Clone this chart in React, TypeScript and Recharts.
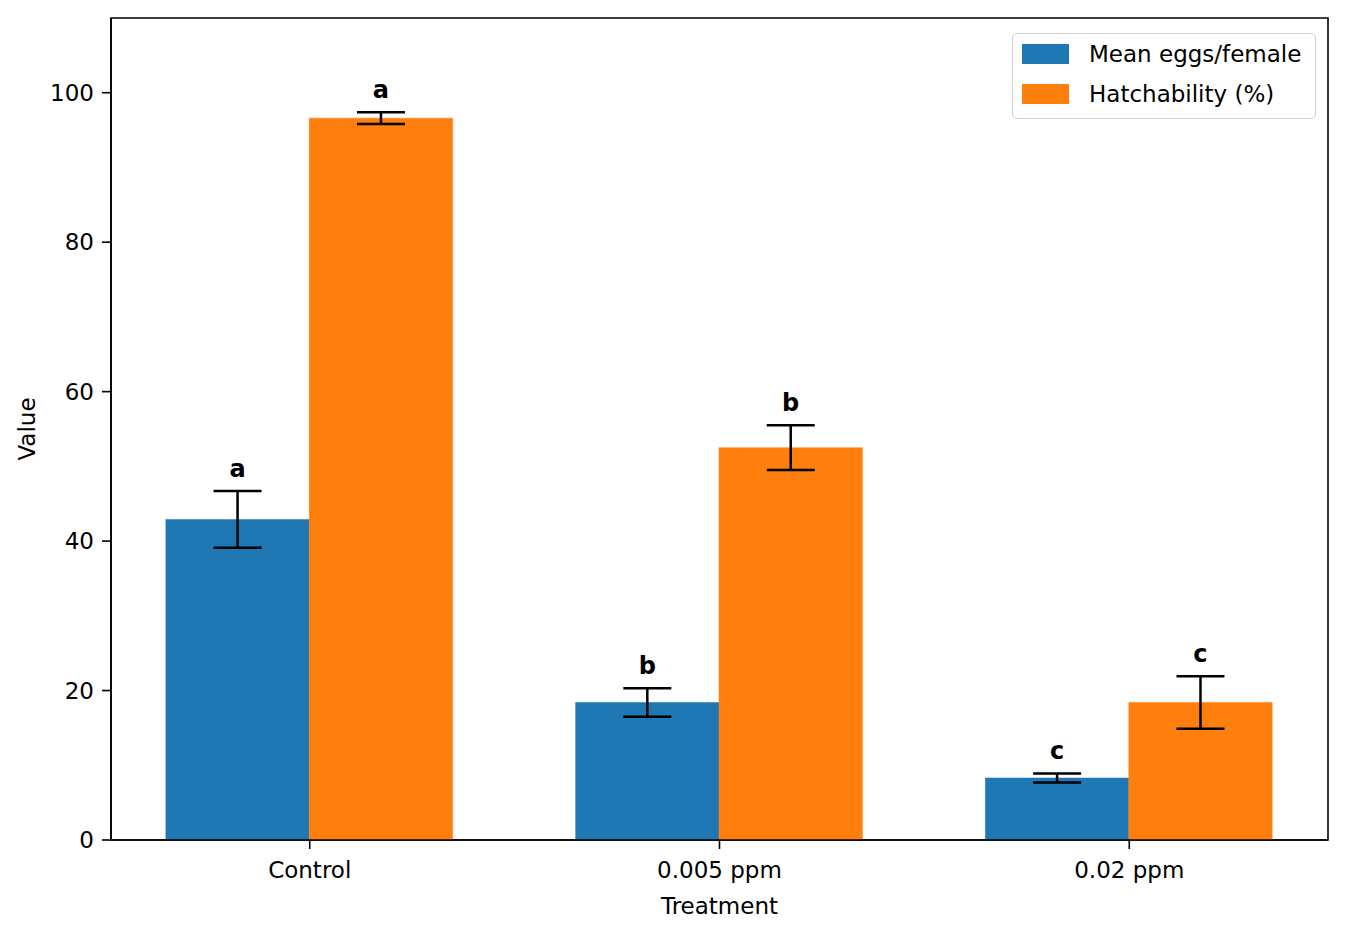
import React from "react";
import {
  BarChart,
  Bar,
  XAxis,
  YAxis,
  ErrorBar,
  LabelList,
  Legend,
  ReferenceArea,
} from "recharts";

const categories = ["Control", "0.005 ppm", "0.02 ppm"];
const seriesNames = ["Mean eggs/female", "Hatchability (%)"];
const eggsMean = [42.9, 18.4, 8.3];
const eggsErr = [3.8, 1.9, 0.6];
const eggsLetters = ["a", "b", "c"];
const hatchMean = [96.6, 52.5, 18.4];
const hatchErr = [0.8, 3.0, 3.5];
const hatchLetters = ["a", "b", "c"];
const yTicks = [0, 20, 40, 60, 80, 100];
const xTicks = [0, 1, 2];

const data = categories.map((c, i) => ({
  x: i,
  name: c,
  eggs: eggsMean[i],
  eggsErr: eggsErr[i],
  hatch: hatchMean[i],
  hatchErr: hatchErr[i],
}));

const FONT = "DejaVu Sans";
const FS = 23;

const makeLetter = (letters: string[], errs: number[]) => (props: any) => {
  const { x, y, width, height, value, index } = props;
  const v = Number(value);
  if (!v || height == null) return null;
  const ppu = Number(height) / v;
  const top = Number(y) - errs[index] * ppu;
  return (
    <text
      x={Number(x) + Number(width) / 2}
      y={top - 14}
      textAnchor="middle"
      fontFamily={FONT}
      fontWeight="bold"
      fontSize={24}
      fill="#000"
    >
      {letters[index]}
    </text>
  );
};

const LegendBox = (props: any) => {
  const payload = [...(props.payload || [])].sort(
    (a: any, b: any) => seriesNames.indexOf(a.value) - seriesNames.indexOf(b.value)
  );
  return (
    <div
      style={{
        position: "absolute",
        left: 1012,
        top: 33,
        width: 304,
        height: 86,
        boxSizing: "border-box",
        border: "1.5px solid #d0d0d0",
        borderRadius: 5,
        background: "rgba(255,255,255,0.8)",
        fontFamily: FONT,
        fontSize: FS,
      }}
    >
      {payload.map((p: any, i: number) => (
        <div
          key={i}
          style={{
            position: "absolute",
            left: 9,
            top: 10 + i * 40,
            height: 20,
            display: "flex",
            alignItems: "center",
            whiteSpace: "nowrap",
          }}
        >
          <div style={{ width: 47, height: 20, background: p.color }} />
          <span style={{ marginLeft: 20, color: "#000", lineHeight: "20px" }}>{p.value}</span>
        </div>
      ))}
    </div>
  );
};

export default function App() {
  return (
    <div style={{ position: "absolute", left: 0, top: 0, width: 1345, height: 941, background: "#fff" }}>
      <BarChart
        width={1345}
        height={941}
        data={data}
        margin={{ top: 18, right: 17, bottom: 0, left: 0 }}
        barGap={0}
      >
        <ReferenceArea
          x1={-0.485}
          x2={2.485}
          y1={0}
          y2={110}
          fill="none"
          stroke="#000"
          strokeWidth={1.6}
          ifOverflow="visible"
        />
        <XAxis
          dataKey="x"
          type="number"
          domain={[-0.485, 2.485]}
          ticks={xTicks}
          allowDataOverflow
          tickFormatter={(v: number) => categories[v] ?? ""}
          height={101}
          tickSize={9}
          tickMargin={13}
          stroke="#000"
          strokeWidth={1.6}
          tick={{ fill: "#000", fontFamily: FONT, fontSize: FS }}
          label={{
            value: "Treatment",
            position: "insideBottom",
            offset: 27,
            fill: "#000",
            fontFamily: FONT,
            fontSize: FS,
          }}
        />
        <YAxis
          type="number"
          domain={[0, 110]}
          ticks={yTicks}
          allowDataOverflow
          width={111}
          tickSize={9}
          tickMargin={8}
          stroke="#000"
          strokeWidth={1.6}
          tick={{ fill: "#000", fontFamily: FONT, fontSize: FS }}
          label={{
            content: (p: any) => {
              const vb = p.viewBox || { x: 0, y: 18, width: 111, height: 822 };
              const cx = vb.x + 27;
              const cy = vb.y + vb.height / 2;
              return (
                <text
                  x={cx}
                  y={cy}
                  transform={`rotate(-90 ${cx} ${cy})`}
                  textAnchor="middle"
                  dominantBaseline="central"
                  fontFamily={FONT}
                  fontSize={FS}
                  fill="#000"
                >
                  Value
                </text>
              );
            },
          }}
        />
        <Legend
          layout="vertical"
          align="center"
          verticalAlign="middle"
          wrapperStyle={{ position: "absolute", left: 0, top: 0, width: 0, height: 0 }}
          content={<LegendBox />}
        />
        <Bar
          dataKey="eggs"
          name={seriesNames[0]}
          fill="#1f77b4"
          stroke="#1f77b4"
          strokeWidth={0.5}
          barSize={143.4}
          isAnimationActive={false}
        >
          <ErrorBar dataKey="eggsErr" width={24} stroke="#000" strokeWidth={2.5} direction="y" />
          <LabelList dataKey="eggs" content={makeLetter(eggsLetters, eggsErr)} />
        </Bar>
        <Bar
          dataKey="hatch"
          name={seriesNames[1]}
          fill="#ff7f0e"
          stroke="#ff7f0e"
          strokeWidth={0.5}
          barSize={143.4}
          isAnimationActive={false}
        >
          <ErrorBar dataKey="hatchErr" width={24} stroke="#000" strokeWidth={2.5} direction="y" />
          <LabelList dataKey="hatch" content={makeLetter(hatchLetters, hatchErr)} />
        </Bar>
      </BarChart>
    </div>
  );
}
